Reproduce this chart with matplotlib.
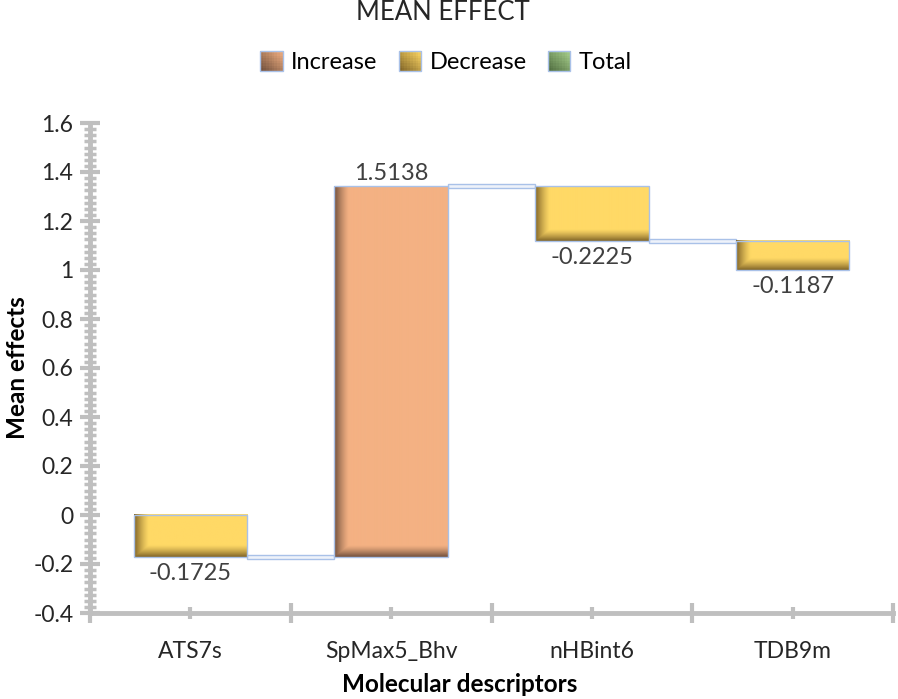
import numpy as np
import matplotlib
matplotlib.use("Agg")
import matplotlib.pyplot as plt
from matplotlib.patches import Rectangle
from matplotlib.legend_handler import HandlerBase
from matplotlib.ticker import MultipleLocator
import matplotlib.colors as mcolors

plt.rcParams['font.family'] = ['Lato', 'DejaVu Sans']

categories = ["ATS7s", "SpMax5_Bhv", "nHBint6", "TDB9m"]
effects = [-0.1725, 1.5138, -0.2225, -0.1187]
value_labels = ["-0.1725", "1.5138", "-0.2225", "-0.1187"]
legend_names = ["Increase", "Decrease", "Total"]

INC = "#F4B183"
DEC = "#FFD966"
TOT = "#A9D18E"
INC_DARK = "#6E4E3B"
DEC_DARK = "#7E6226"
TOT_DARK = "#4E6B3E"
EDGE = "#A9C1E8"
GRID = "#BFBFBF"
TXT = "#404040"

fig = plt.figure(figsize=(8.98, 6.99), dpi=100)
ax = fig.add_axes([90/898, 1-613/699, 803/898, (613-123)/699])
ax.set_xlim(-0.5, 3.5)
ax.set_ylim(-0.4, 1.6)

x = np.arange(len(categories))
ends = np.cumsum(effects)
starts = ends - np.array(effects)
w = 0.565

# pixel scale
p0 = ax.transData.transform((0, 0))
p1 = ax.transData.transform((1, 1))
pxx = p1[0] - p0[0]
pxy = p1[1] - p0[1]

def shaded(ax, x0, x1, y0, y1, base, dark, z=2):
    W = max(int(round((x1 - x0) * pxx)), 2)
    H = max(int(round((y1 - y0) * pxy)), 2)
    b = np.array(mcolors.to_rgb(base))
    d = np.array(mcolors.to_rgb(dark))
    xs = np.arange(W) + 0.5
    ys = np.arange(H) + 0.5  # from bottom
    tx = np.clip(xs / 15.0, 0, 1)
    ty = np.clip(ys / 12.0, 0, 1)
    fx = (1 - tx) ** 1.3
    fy = (1 - ty) ** 1.3
    f = np.maximum(fx[None, :], fy[:, None])
    img = b[None, None, :] * (1 - f[..., None]) + d[None, None, :] * f[..., None]
    ax.imshow(img, extent=[x0, x1, y0, y1], origin='lower', aspect='auto',
              interpolation='bilinear', zorder=z)
    ax.add_patch(Rectangle((x0, y0), x1 - x0, y1 - y0, fill=False,
                           edgecolor=EDGE, lw=1.0, zorder=z + 0.1))

for i in range(len(categories)):
    lo, hi = sorted([starts[i], ends[i]])
    if effects[i] >= 0:
        shaded(ax, x[i] - w/2, x[i] + w/2, lo, hi, INC, INC_DARK)
        ax.text(x[i], hi + 0.01, value_labels[i], ha='center', va='bottom',
                fontsize=17, color=TXT)
    else:
        shaded(ax, x[i] - w/2, x[i] + w/2, lo, hi, DEC, DEC_DARK)
        ax.text(x[i], lo - 0.025, value_labels[i], ha='center', va='top',
                fontsize=17, color=TXT)

# connectors
ch = 4.0 / pxy
for i in range(len(categories) - 1):
    lvl = ends[i]
    xa = x[i] + w/2
    xb = x[i+1] - w/2
    ax.add_patch(Rectangle((xa, lvl - ch/2), xb - xa, ch, facecolor="#EEF2FA",
                           edgecolor=EDGE, lw=1.0, zorder=1.5))

ax.set_xlim(-0.5, 3.5)
ax.set_ylim(-0.4, 1.6)

for s in ['top', 'right']:
    ax.spines[s].set_visible(False)
for s in ['left', 'bottom']:
    ax.spines[s].set_color(GRID)
    ax.spines[s].set_linewidth(3.5)

yt = np.round(np.arange(-0.4, 1.61, 0.2), 1)
ax.yaxis.set_minor_locator(MultipleLocator(0.025))
ax.set_yticks(yt)
ax.set_yticklabels([f"{v:g}" for v in yt])
ax.tick_params(axis='y', which='major', direction='inout', length=14, width=3,
               color=GRID, labelsize=16.5, labelcolor='#262626', pad=5)
ax.tick_params(axis='y', which='minor', direction='inout', length=8, width=2.5,
               color=GRID)

ax.set_xticks(np.arange(-0.5, 3.6, 1.0))
ax.set_xticklabels([])
ax.set_xticks(x, minor=True)
ax.set_xticklabels(categories, minor=True)
ax.tick_params(axis='x', which='major', direction='inout', length=14, width=3,
               color=GRID)
ax.tick_params(axis='x', which='minor', direction='inout', length=8, width=3,
               color=GRID, labelsize=16.5, labelcolor='#262626', pad=16)

ax.set_ylabel("Mean effects", fontsize=17.5, fontweight='bold')
ax.yaxis.set_label_coords(-0.076, 0.5)
ax.set_xlabel("Molecular descriptors", fontsize=17.5, fontweight='bold')
ax.xaxis.set_label_coords(0.46, -0.122)

fig.text(443/898, 1 - 12/699, "MEAN EFFECT", ha='center', va='center',
         fontsize=18.5, color='#262626')

class GradHandler(HandlerBase):
    def __init__(self, base, dark):
        super().__init__()
        self.base = np.array(mcolors.to_rgb(base))
        self.dark = np.array(mcolors.to_rgb(dark))
    def create_artists(self, legend, orig_handle, xdescent, ydescent, width,
                       height, fontsize, trans):
        arts = []
        n = 8
        for a in range(n):
            for b in range(n):
                t = ((a + 0.5) / n + (b + 0.5) / n) / 2
                c = self.dark * (1 - t) + self.base * t
                r = Rectangle((-xdescent + a * width / n, -ydescent + b * height / n),
                              width / n + 0.3, height / n + 0.3, facecolor=c,
                              edgecolor='none', transform=trans)
                arts.append(r)
        arts.append(Rectangle((-xdescent, -ydescent), width, height, fill=False,
                              edgecolor=EDGE, lw=1.0, transform=trans))
        return arts

h_inc = Rectangle((0, 0), 1, 1)
h_dec = Rectangle((0, 0), 1, 1)
h_tot = Rectangle((0, 0), 1, 1)
fig.legend([h_inc, h_dec, h_tot], legend_names, loc='center',
           bbox_to_anchor=(446/898, 1 - 62/699), ncol=3, frameon=False,
           fontsize=17, handlelength=0.95, handleheight=0.9, handletextpad=0.35,
           columnspacing=0.9,
           handler_map={h_inc: GradHandler(INC, INC_DARK),
                        h_dec: GradHandler(DEC, DEC_DARK),
                        h_tot: GradHandler(TOT, TOT_DARK)})

fig.savefig("out.png", dpi=100)
